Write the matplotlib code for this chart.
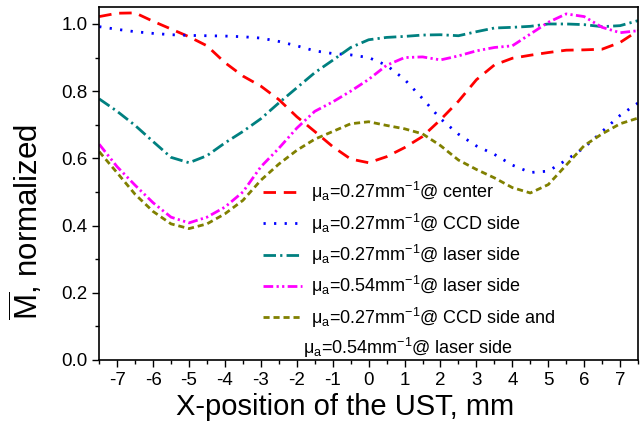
import matplotlib
matplotlib.use("Agg")
import matplotlib.pyplot as plt

plt.rcParams["font.family"] = ["Liberation Sans", "DejaVu Sans"]
plt.rcParams["mathtext.fontset"] = "custom"
plt.rcParams["mathtext.rm"] = "Liberation Sans"
plt.rcParams["mathtext.it"] = "Liberation Sans"
plt.rcParams["axes.unicode_minus"] = False

# x-position of the UST, mm
x_pos = [-7.5, -7.0, -6.5, -6.0, -5.5, -5.0, -4.5, -4.0, -3.5, -3.0, -2.5,
         -2.0, -1.5, -1.0, -0.5, 0.0, 0.5, 1.0, 1.5, 2.0, 2.5, 3.0, 3.5,
         4.0, 4.5, 5.0, 5.5, 6.0, 6.5, 7.0, 7.5]

center_027 = [1.022, 1.032, 1.033, 1.008, 0.985, 0.962, 0.935, 0.885, 0.845,
              0.815, 0.775, 0.724, 0.680, 0.635, 0.598, 0.587, 0.605, 0.632,
              0.665, 0.715, 0.770, 0.834, 0.878, 0.898, 0.907, 0.915, 0.922,
              0.923, 0.925, 0.945, 0.980]
ccd_027 = [0.992, 0.984, 0.977, 0.972, 0.968, 0.966, 0.965, 0.964, 0.962,
           0.958, 0.948, 0.935, 0.920, 0.912, 0.908, 0.900, 0.877, 0.835,
           0.778, 0.718, 0.672, 0.637, 0.612, 0.580, 0.558, 0.562, 0.595,
           0.632, 0.680, 0.728, 0.765]
laser_027 = [0.777, 0.740, 0.698, 0.650, 0.603, 0.587, 0.608, 0.646, 0.680,
             0.718, 0.765, 0.810, 0.855, 0.892, 0.930, 0.953, 0.960, 0.963,
             0.967, 0.968, 0.965, 0.977, 0.988, 0.990, 0.993, 1.000, 1.000,
             0.998, 0.992, 0.995, 1.010]
laser_054 = [0.642, 0.575, 0.520, 0.468, 0.425, 0.408, 0.425, 0.455, 0.500,
             0.575, 0.630, 0.690, 0.740, 0.768, 0.800, 0.835, 0.877, 0.900,
             0.902, 0.893, 0.905, 0.920, 0.930, 0.935, 0.970, 1.005, 1.030,
             1.022, 0.990, 0.974, 0.980]
ccd027_laser054 = [0.620, 0.557, 0.493, 0.442, 0.405, 0.391, 0.405, 0.435,
                   0.475, 0.535, 0.583, 0.624, 0.657, 0.680, 0.703, 0.709,
                   0.698, 0.688, 0.673, 0.638, 0.595, 0.567, 0.542, 0.513,
                   0.497, 0.522, 0.580, 0.638, 0.673, 0.703, 0.720]

labels = [
    "μ$_\\mathrm{a}$=0.27mm$^{\\mathrm{-1}}$@ center",
    "μ$_\\mathrm{a}$=0.27mm$^{\\mathrm{-1}}$@ CCD side",
    "μ$_\\mathrm{a}$=0.27mm$^{\\mathrm{-1}}$@ laser side",
    "μ$_\\mathrm{a}$=0.54mm$^{\\mathrm{-1}}$@ laser side",
    "μ$_\\mathrm{a}$=0.27mm$^{\\mathrm{-1}}$@ CCD side and",
]
extra_line = "μ$_\\mathrm{a}$=0.54mm$^{\\mathrm{-1}}$@ laser side"

fig = plt.figure(figsize=(6.4, 4.22), dpi=100)
ax = fig.add_axes([0.155, 0.147, 0.842, 0.836])

ax.plot(x_pos, center_027, color="#FF0000", lw=2, ls=(0, (4.5, 2.8)), label=labels[0])
ax.plot(x_pos, ccd_027, color="#0000FF", lw=2, ls=(0, (0.8, 3.0)), label=labels[1])
ax.plot(x_pos, laser_027, color="#008080", lw=2, ls=(0, (4.5, 1.5, 0.8, 1.5)), label=labels[2])
ax.plot(x_pos, laser_054, color="#FF00FF", lw=2,
        ls=(0, (3.5, 1.2, 0.8, 1.2, 0.8, 1.2)), label=labels[3])
ax.plot(x_pos, ccd027_laser054, color="#808000", lw=2, ls=(0, (2.2, 1.4)), label=labels[4])

ax.set_xlim(-7.5, 7.5)
ax.set_ylim(0, 1.05)
ax.set_xticks(range(-7, 8))
ax.set_xticks([v + 0.5 for v in range(-8, 8)], minor=True)
ax.set_yticks([0.0, 0.2, 0.4, 0.6, 0.8, 1.0])
ax.set_yticks([0.1, 0.3, 0.5, 0.7, 0.9], minor=True)
ax.tick_params(which="major", direction="out", length=5, width=1, labelsize=13.5)
ax.tick_params(which="minor", direction="out", length=3, width=1)
for s in ax.spines.values():
    s.set_linewidth(1.2)

ax.set_xlabel("X-position of the UST, mm", fontsize=21)
ax.xaxis.set_label_coords(0.456, -0.095, transform=ax.transAxes)
ax.xaxis.label.set_va("top")
ax.set_ylabel("$\\overline{\\mathrm{M}}$, normalized", fontsize=22.5)
ax.yaxis.set_label_coords(-0.1, 0.39, transform=ax.transAxes)

leg = ax.legend(loc="upper left", bbox_to_anchor=(0.29, 0.53), frameon=False,
                fontsize=13, handlelength=2.2, handletextpad=0.5, labelspacing=0.4,
                borderaxespad=0)
ax.text(0.378, 0.035, extra_line, transform=ax.transAxes, fontsize=13,
        ha="left", va="center")

fig.savefig("out.png", dpi=100)
